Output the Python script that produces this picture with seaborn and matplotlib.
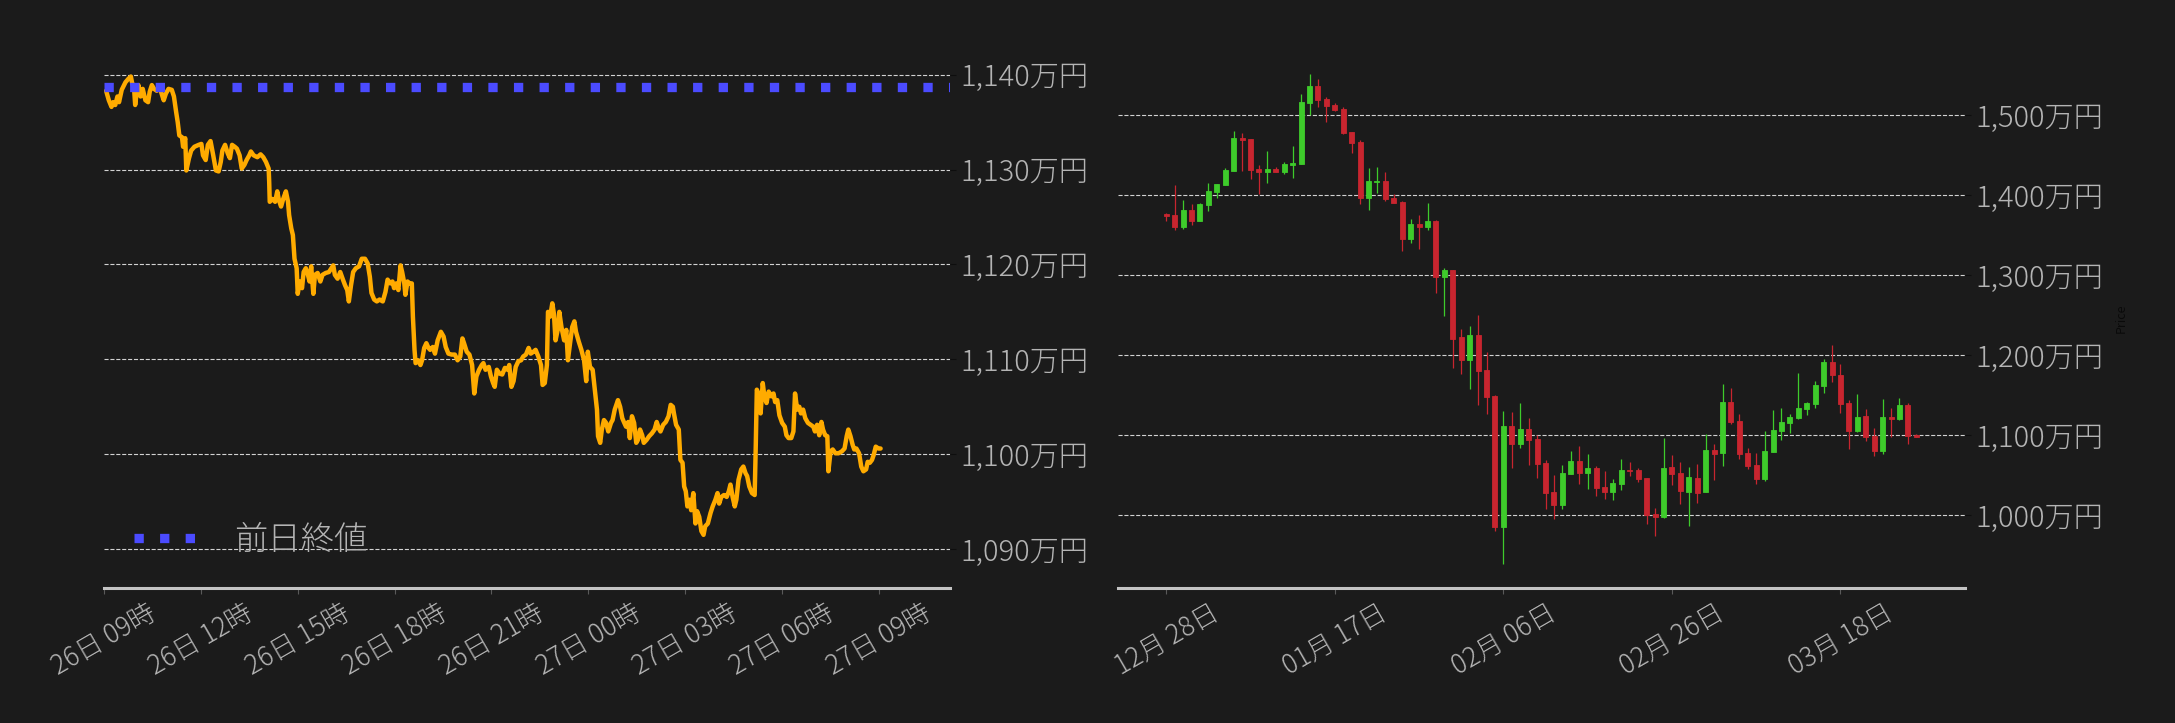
import matplotlib
matplotlib.use("Agg")
import numpy as np
import pandas as pd
import matplotlib.pyplot as plt
import matplotlib.dates as mdates
import matplotlib.ticker as mticker
import seaborn as sns

sns.set_theme(style="dark")
plt.rcParams["font.family"] = ["Noto Sans CJK JP", "DejaVu Sans"]
plt.rcParams["font.weight"] = "light"
plt.rcParams["axes.unicode_minus"] = False

BG = "#1b1b1b"
TXT = "#b4b4b4"

## intraday (minutes after 26日 09:00, price in 万円)
intraday_min = [4, 9, 14, 17, 21, 25, 28, 33, 40, 46, 50, 52, 56, 58, 61, 64, 68, 72, 77, 82,
                85, 89, 93, 98, 103, 106, 111, 115, 120, 126, 130, 134, 137, 140, 145, 147, 151, 153, 158, 162,
                168, 176, 181, 184, 189, 193, 198, 203, 208, 213, 217, 220, 225, 230, 234, 238, 243, 247, 252, 256,
                261, 265, 270, 273, 278, 285, 291, 296, 301, 306, 307, 308, 313, 318, 322, 325, 329, 333, 338, 342,
                344, 348, 351, 354, 358, 360, 364, 368, 371, 375, 379, 382, 385, 389, 392, 397, 402, 406, 412, 418,
                426, 429, 434, 439, 444, 448, 452, 455, 459, 463, 468,
                474, 479, 485, 490, 494, 497, 502, 507, 512, 518, 523, 527, 532, 536, 539, 543, 547, 551, 554, 558,
                560, 564, 568, 572, 574, 577, 579, 584, 588, 591, 595, 599, 603, 606, 611, 615, 620, 626, 631, 635,
                640, 646, 652, 657, 662, 666, 669, 674, 679, 684, 688, 692, 697, 702, 705, 709, 715, 719, 723, 726,
                730, 735, 740, 745, 750, 753, 757, 761, 765, 770, 775, 779, 784, 789, 793, 798, 802, 807, 812, 815,
                819, 823, 825, 829, 833, 836, 839, 843, 846, 850, 855, 859, 862, 866, 870, 874, 877, 882, 887, 892,
                896, 899, 903, 908, 912, 916, 918, 922, 925, 929, 933, 937, 942, 945, 949,
                955, 959, 963, 966, 970, 974, 977, 981, 985, 989, 992, 996, 1000, 1003, 1008, 1013, 1018, 1023, 1027, 1031,
                1034, 1039, 1044, 1049, 1053, 1057, 1059, 1063, 1068, 1071, 1075, 1078, 1081, 1084, 1088, 1091, 1095, 1099, 1102, 1106,
                1110, 1114, 1117, 1122, 1127, 1131, 1136, 1140, 1143, 1147, 1152, 1157, 1161, 1164, 1168, 1172, 1175, 1179, 1184, 1188,
                1192, 1195, 1199, 1204, 1209, 1211, 1213, 1216, 1220, 1224, 1227, 1231, 1235, 1240, 1244, 1247, 1251, 1255, 1260, 1265,
                1268, 1272, 1277, 1281, 1284, 1288, 1292, 1295, 1299, 1303, 1308, 1313, 1318, 1321, 1325, 1329, 1333, 1336, 1340, 1344,
                1346, 1350, 1354, 1359, 1365, 1371, 1376, 1380, 1383, 1387, 1391, 1394, 1398, 1403, 1407, 1411, 1416, 1419, 1423, 1427,
                1430, 1434, 1439, 1443]
intraday_price = [1138.3, 1137.3, 1136.6, 1137.1, 1136.8, 1137.7, 1137.1, 1138.4, 1139.2, 1139.6, 1139.8, 1139.2, 1138.5, 1136.8, 1138.2, 1138.9, 1137.7, 1138.5, 1137.3, 1137.1,
                  1138.2, 1138.9, 1138.5, 1138.3, 1138.7, 1138.2, 1137.3, 1138.0, 1138.5, 1138.4, 1137.7, 1136.1, 1135.0, 1133.6, 1133.4, 1132.4, 1133.3, 1129.9, 1131.2, 1132.0,
                  1132.4, 1132.6, 1132.7, 1131.5, 1131.0, 1132.6, 1133.0, 1131.5, 1129.9, 1129.8, 1130.8, 1132.0, 1132.6, 1131.7, 1131.2, 1132.6, 1132.4, 1132.2, 1131.5, 1130.1,
                  1130.5, 1131.0, 1131.5, 1131.9, 1131.5, 1131.3, 1131.6, 1131.3, 1130.8, 1130.1, 1128.7, 1126.6, 1126.9, 1126.6, 1127.7, 1126.8, 1126.1, 1126.9, 1127.7, 1126.6,
                  1125.2, 1123.8, 1123.1, 1120.6, 1119.6, 1116.9, 1118.2, 1117.5, 1119.2, 1119.6, 1118.9, 1118.2, 1119.8, 1116.9, 1118.9, 1119.1, 1118.2, 1118.9, 1119.1, 1119.2,
                  1119.9, 1118.9, 1118.5, 1119.2, 1118.4, 1117.8, 1117.3, 1116.1, 1117.8, 1119.2, 1119.6,
                  1119.8, 1120.6, 1120.6, 1120.1, 1118.7, 1117.0, 1116.3, 1116.1, 1116.3, 1116.1, 1117.1, 1118.4, 1118.0, 1118.2, 1117.5, 1118.0, 1117.3, 1119.9, 1119.2, 1118.0,
                  1116.8, 1118.2, 1118.0, 1118.0, 1114.5, 1111.0, 1109.6, 1109.9, 1109.4, 1109.9, 1111.2, 1111.7, 1111.2, 1111.0, 1111.3, 1110.6, 1112.0, 1112.9, 1112.4, 1111.3,
                  1110.6, 1110.5, 1110.5, 1109.9, 1110.3, 1112.2, 1111.7, 1110.8, 1110.5, 1109.4, 1106.4, 1108.2, 1108.9, 1109.4, 1109.6, 1108.9, 1109.2, 1108.2, 1107.5, 1107.1,
                  1108.9, 1108.5, 1108.4, 1109.1, 1108.9, 1109.4, 1107.1, 1107.7, 1109.2, 1109.8, 1109.9, 1110.3, 1110.5, 1111.2, 1110.6, 1110.8, 1111.0, 1110.3, 1109.4, 1107.3,
                  1107.5, 1109.4, 1115.0, 1114.5, 1115.9, 1114.8, 1112.0, 1113.1, 1115.0, 1113.4, 1112.0, 1113.1, 1109.9, 1111.7, 1113.4, 1114.0, 1112.9, 1111.9, 1111.0, 1109.9,
                  1107.7, 1110.8, 1109.2, 1108.9, 1106.8, 1104.7, 1101.9, 1101.2, 1102.6, 1103.6, 1103.3, 1102.4, 1103.3, 1103.6, 1104.7,
                  1105.7, 1105.0, 1103.8, 1103.4, 1102.9, 1103.4, 1101.7, 1104.0, 1103.3, 1101.2, 1101.5, 1102.6, 1102.0, 1101.2, 1101.5, 1101.9, 1102.2, 1102.6, 1103.4, 1102.7,
                  1102.4, 1103.1, 1103.4, 1104.0, 1105.2, 1105.0, 1104.3, 1103.1, 1102.6, 1099.4, 1099.1, 1096.6, 1096.1, 1094.5, 1095.2, 1094.1, 1095.9, 1092.7, 1094.0, 1093.4,
                  1091.9, 1091.5, 1092.4, 1092.7, 1093.8, 1094.5, 1095.2, 1095.9, 1094.8, 1095.5, 1095.7, 1095.5, 1096.1, 1096.8, 1095.5, 1094.5, 1095.2, 1097.3, 1098.4, 1098.7,
                  1098.0, 1097.7, 1096.6, 1095.9, 1095.7, 1100.8, 1106.8, 1106.4, 1104.3, 1107.5, 1106.1, 1105.4, 1106.6, 1106.1, 1106.4, 1105.5, 1105.7, 1104.1, 1103.3, 1102.9,
                  1102.0, 1101.7, 1101.7, 1102.4, 1106.4, 1104.7, 1105.0, 1104.3, 1104.7, 1103.8, 1103.3, 1103.1, 1102.9, 1102.4, 1103.1, 1102.0, 1103.4, 1102.6, 1102.0, 1101.9,
                  1098.2, 1100.3, 1100.5, 1100.1, 1100.1, 1100.3, 1100.6, 1101.9, 1102.6, 1101.9, 1101.0, 1100.5, 1100.6, 1100.1, 1098.7, 1098.2, 1098.4, 1099.2, 1099.1, 1099.4,
                  1099.9, 1100.8, 1100.6, 1100.6]
prev_close = 1138.7
intraday_start = "2025-03-26 09:00"
intraday_ticks = pd.date_range(intraday_start, periods=9, freq="3h")
left_yticks = [1090, 1100, 1110, 1120, 1130, 1140]

## daily candles, 2024-12-28 -> 2025-03-27
day_start = "2024-12-28"
opens = [1376.3, 1375.4, 1360.4, 1381.7, 1368.3, 1388.3, 1404.6, 1413.3, 1430.8, 1471.7,
         1470.4, 1432.9, 1429.6, 1432.9, 1429.6, 1438.3, 1439.6, 1515.8, 1536.7, 1520.4,
         1512.9, 1507.9, 1479.2, 1466.7, 1397.1, 1417.1, 1417.9, 1396.7, 1391.7, 1345.8,
         1364.1, 1360.8, 1367.9, 1298.3, 1306.7, 1222.9, 1194.6, 1225.4, 1181.7, 1149.2,
         985.8, 1111.7, 1089.6, 1107.9, 1095.4, 1065.4, 1029.2, 1013.3, 1052.1, 1067.9,
         1053.3, 1059.2, 1035.4, 1029.6, 1039.6, 1056.7, 1056.7, 1046.7, 1001.7, 998.3,
         1060.4, 1052.9, 1029.2, 1046.7, 1029.2, 1081.7, 1078.3, 1141.7, 1117.9, 1077.9,
         1062.9, 1045.8, 1079.6, 1105.8, 1115.4, 1122.1, 1133.3, 1139.6, 1162.1, 1191.7,
         1175.4, 1140.4, 1105.8, 1124.2, 1099.6, 1080.8, 1122.5, 1120.4, 1137.9, 1100.0]
highs = [1377.5, 1412.9, 1393.8, 1389.2, 1390.0, 1415.0, 1414.2, 1433.8, 1480.0, 1477.9,
         1470.4, 1437.9, 1455.0, 1435.4, 1441.7, 1461.3, 1526.7, 1551.7, 1545.4, 1522.9,
         1515.0, 1510.0, 1479.2, 1468.8, 1433.8, 1435.0, 1429.2, 1401.7, 1393.3, 1370.4,
         1375.4, 1390.0, 1369.0, 1308.8, 1306.7, 1232.9, 1236.3, 1250.4, 1204.2, 1150.0,
         1130.0, 1128.8, 1140.0, 1121.7, 1100.0, 1069.2, 1050.4, 1062.9, 1080.4, 1086.7,
         1076.7, 1061.7, 1055.4, 1045.0, 1070.4, 1066.7, 1058.8, 1046.7, 1009.2, 1096.3,
         1075.4, 1066.3, 1060.0, 1064.6, 1101.3, 1088.8, 1163.8, 1158.8, 1126.3, 1083.8,
         1077.5, 1105.0, 1131.7, 1133.8, 1126.3, 1177.5, 1142.1, 1167.5, 1195.4, 1212.9,
         1189.2, 1144.2, 1151.7, 1132.9, 1109.2, 1145.4, 1134.2, 1146.7, 1140.4, 1101.3]
lows = [1368.3, 1357.1, 1358.3, 1363.3, 1368.3, 1380.0, 1396.3, 1413.3, 1430.8, 1430.8,
        1420.8, 1402.1, 1415.8, 1429.6, 1427.1, 1422.1, 1439.6, 1500.8, 1510.8, 1492.1,
        1505.8, 1477.1, 1453.3, 1389.6, 1382.1, 1402.5, 1393.3, 1390.8, 1330.8, 1340.0,
        1333.0, 1356.3, 1278.3, 1249.6, 1184.6, 1177.1, 1157.5, 1138.3, 1127.1, 980.4,
        938.8, 1059.6, 1084.6, 1063.3, 1047.1, 1008.3, 995.8, 1007.5, 1051.3, 1039.6,
        1033.3, 1024.6, 1020.8, 1019.6, 1032.1, 1049.6, 1042.1, 989.6, 974.6, 997.1,
        1038.3, 1014.2, 987.1, 1015.8, 1029.2, 1044.6, 1062.1, 1114.6, 1070.8, 1058.3,
        1039.6, 1043.3, 1079.6, 1093.8, 1102.5, 1120.0, 1125.8, 1134.6, 1152.5, 1167.1,
        1128.3, 1083.3, 1104.6, 1092.9, 1074.6, 1076.3, 1098.3, 1119.6, 1089.6, 1098.3]
closes = [1374.6, 1360.4, 1381.7, 1368.3, 1389.2, 1405.4, 1414.2, 1431.7, 1471.7, 1469.2,
          1431.7, 1429.6, 1432.9, 1429.6, 1439.2, 1440.4, 1516.7, 1536.7, 1519.6, 1512.1,
          1507.1, 1478.3, 1465.8, 1397.1, 1417.9, 1417.9, 1395.8, 1390.8, 1345.8, 1364.2,
          1360.8, 1367.9, 1298.3, 1306.7, 1220.8, 1194.6, 1225.4, 1180.8, 1148.3, 985.8,
          1111.7, 1089.6, 1107.9, 1094.6, 1064.6, 1028.3, 1013.3, 1052.9, 1067.9, 1053.3,
          1059.2, 1034.6, 1029.6, 1040.4, 1056.7, 1055.8, 1045.8, 1000.0, 998.3, 1059.2,
          1052.1, 1030.4, 1047.9, 1027.5, 1081.7, 1077.1, 1141.7, 1116.7, 1077.1, 1062.1,
          1045.8, 1080.4, 1106.7, 1116.7, 1122.9, 1134.2, 1140.4, 1162.9, 1191.7, 1175.8,
          1139.6, 1105.8, 1122.9, 1098.3, 1080.8, 1122.9, 1120.8, 1137.9, 1099.6, 1098.3]
daily_ticks = pd.date_range(day_start, periods=5, freq="20D")
right_yticks = [1000, 1100, 1200, 1300, 1400, 1500]

UP = "#3ecb2b"
DOWN = "#c8252f"

#%%
times = pd.Timestamp(intraday_start) + pd.to_timedelta(intraday_min, unit="min")
df_line = pd.DataFrame({"time": times, "price": intraday_price})

days = pd.date_range(day_start, periods=len(opens), freq="D")
df_c = pd.DataFrame({"day": mdates.date2num(days), "open": opens, "high": highs,
                     "low": lows, "close": closes})
df_c["up"] = df_c["close"] >= df_c["open"]

fig = plt.figure(figsize=(21.75, 7.23), dpi=100, facecolor=BG)
ax1 = fig.add_axes([0.0478, 0.1867, 0.389, 0.7455])
ax2 = fig.add_axes([0.514, 0.1867, 0.3894, 0.7455])

yfmt = mticker.FuncFormatter(lambda v, p: f"{v:,.0f}万円")

for ax in [ax1, ax2]:
    ax.set_facecolor(BG)
    for s in ["top", "left", "right"]:
        ax.spines[s].set_visible(False)
    ax.spines["bottom"].set_visible(True)
    ax.spines["bottom"].set_color("#c4c4c4")
    ax.spines["bottom"].set_linewidth(2.2)
    ax.yaxis.tick_right()
    ax.yaxis.set_label_position("right")
    ax.yaxis.set_major_formatter(yfmt)
    ax.yaxis.grid(True, linestyle="--", linewidth=0.8, color="#d2d2d2")
    ax.xaxis.grid(False)
    ax.tick_params(axis="y", right=True, left=False, length=4, width=0.8, color="#0e0e0e",
                   labelsize=21, labelcolor=TXT)
    ax.tick_params(axis="x", bottom=True, length=4, width=0.8, color="#5a5a5a",
                   labelsize=19, labelcolor=TXT, labelrotation=30)
    ax.set_axisbelow(True)

# left: intraday line
sns.lineplot(data=df_line, x="time", y="price", ax=ax1, color="#ffab00", linewidth=3.2,
             estimator=None, zorder=2)
ax1.axhline(prev_close, color="#4b4bff", linewidth=6.7, linestyle=(0, (1, 1.75)),
            label="前日終値", zorder=3)
ax1.set_xlim(pd.Timestamp(intraday_start), pd.Timestamp(intraday_start) + pd.Timedelta(minutes=1572))
ax1.set_ylim(1085.9, 1142.7)
ax1.set_yticks(left_yticks)
ax1.set_xticks(intraday_ticks)
ax1.xaxis.set_major_formatter(mdates.DateFormatter("%d日 %H時"))
ax1.set_xlabel("")
ax1.set_ylabel("")
leg = ax1.legend(loc="lower left", frameon=False, fontsize=24, labelcolor=TXT,
                 handletextpad=1.0)

# right: daily candles
for up, col in [(True, UP), (False, DOWN)]:
    d = df_c[df_c["up"] == up]
    ax2.vlines(d["day"], d["low"], d["high"], color=col, linewidth=0.9, zorder=2)
    body_lo = np.minimum(d["open"], d["close"])
    body_h = np.abs(d["close"] - d["open"])
    ax2.bar(d["day"], body_h, bottom=body_lo, width=0.6, color=col, edgecolor=col,
            linewidth=0.6, zorder=3)
x0 = mdates.date2num(pd.Timestamp(day_start))
ax2.set_xlim(x0 - 5.73, x0 + 94.76)
ax2.set_ylim(909.1, 1583)
ax2.set_yticks(right_yticks)
ax2.set_xticks(mdates.date2num(daily_ticks))
ax2.xaxis.set_major_formatter(mdates.DateFormatter("%m月 %d日"))
ax2.set_ylabel("Price", color="#0a0a0a", fontsize=9, labelpad=8)

fig.savefig("out.png", dpi=100, facecolor=BG)
